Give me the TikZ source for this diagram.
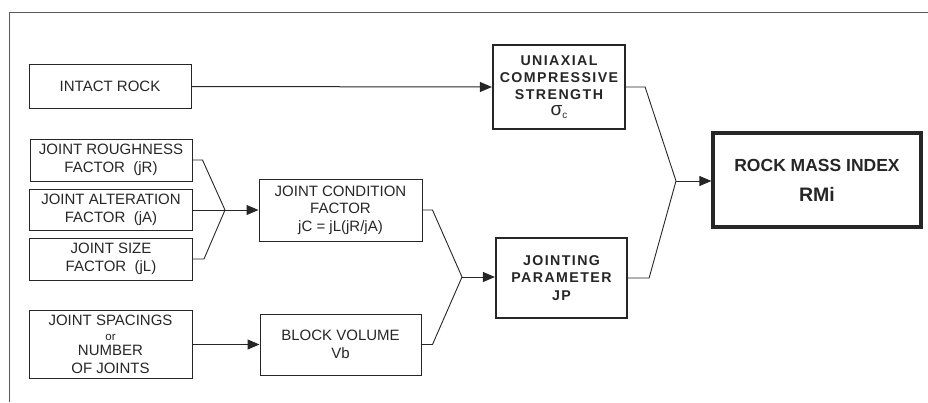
\documentclass[tikz,border=0pt]{standalone}
\usepackage{fontspec}
\setmainfont{Liberation Sans}
\newfontfamily\spacedsans[LetterSpace=10]{Liberation Sans}
\usetikzlibrary{arrows.meta}
\colorlet{ink}{black!85}

\begin{document}
\begin{tikzpicture}[x=1pt, y=-1pt, font=\fontsize{15}{17.5}\selectfont, text=ink,
  box/.style={draw=ink, line width=1pt, align=center, inner sep=0pt},
  boldbox/.style={box, line width=2.2pt, font=\spacedsans\bfseries\fontsize{14.2}{17.2}\selectfont},
  arr/.style={draw=ink, line width=1pt, -{Triangle[length=12pt,width=10pt]}},
  link/.style={draw=ink, line width=0.9pt}]
\useasboundingbox (0,0) rectangle (928,402);
\draw[draw=black!65, line width=1pt] (9,402) -- (9,12) -- (928,12);
\node[box, minimum width=162, minimum height=44] (ir) at (110,86.5) {INTACT ROCK};
\node[boldbox, minimum width=132, minimum height=84] (ucs) at (559,87) {UNIAXIAL\\COMPRESSIVE\\STRENGTH\\[-1pt]{\normalfont\fontsize{19}{17}\selectfont σ\raisebox{-3pt}{\fontsize{10}{10}\selectfont c}}};
\node[box, line width=3.2pt, minimum width=208, minimum height=94, font=\bfseries\fontsize{17.5}{20}\selectfont] (rmi) at (817,180) {ROCK MASS INDEX\\[10pt]{\fontsize{19.5}{20}\selectfont RMi}};
\node[box, minimum width=162, minimum height=42] (jr) at (111,160) {JOINT ROUGHNESS\\FACTOR~~(jR)};
\node[box, minimum width=163, minimum height=41] (ja) at (111,210) {JOINT ALTERATION\\FACTOR~~(jA)};
\node[box, minimum width=163, minimum height=42] (js) at (111,259) {JOINT SIZE\\FACTOR~~(jL)};
\node[box, minimum width=163, minimum height=62] (jc) at (340.5,210) {JOINT CONDITION\\FACTOR\\jC = jL(jR/jA)};
\node[box, minimum width=163, minimum height=68] (jsn) at (110.5,344.5) {JOINT SPACINGS\\[-3pt]{\fontsize{11.5}{12}\selectfont or}\\[-2pt]NUMBER\\OF JOINTS};
\node[box, minimum width=161, minimum height=61] (bv) at (340.5,344.5) {BLOCK VOLUME\\Vb};
\node[boldbox, minimum width=131, minimum height=80] (jp) at (561.5,278) {JOINTING\\PARAMETER\\JP};
\coordinate (j1) at (225,210);
\coordinate (j2) at (462,277);
\coordinate (j3) at (676,181);
\draw[arr] (ir.east) -- (ucs.west);
\draw[link] (jr.east) -- ++(10,0) -- (j1);
\draw[link] (js.east) -- ++(11,0) -- (j1);
\draw[arr] (ja.east) -- (jc.west);
\draw[link] (jc.east) -- ++(10,0) -- (j2);
\draw[link] (bv.east) -- ++(11,0) -- (j2);
\draw[arr] (j2) -- (j2 -| jp.west);
\draw[arr] (jsn.east) -- (bv.west);
\draw[link] (ucs.east) -- ++(19,0) -- (j3);
\draw[link] (jp.east) -- ++(21,0) -- (j3);
\draw[arr] (j3) -- (j3 -| rmi.west);
\end{tikzpicture}
\end{document}
